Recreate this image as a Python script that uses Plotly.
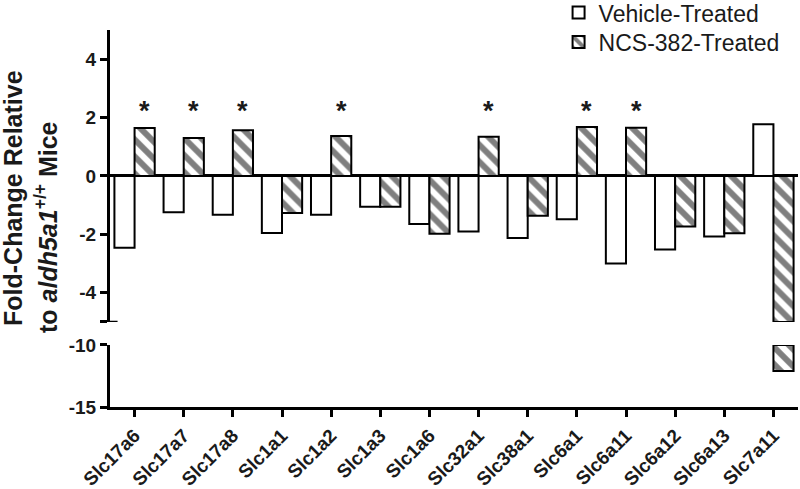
import plotly.graph_objects as go
from plotly.subplots import make_subplots

categories = ["Slc17a6", "Slc17a7", "Slc17a8", "Slc1a1", "Slc1a2", "Slc1a3", "Slc1a6",
              "Slc32a1", "Slc38a1", "Slc6a1", "Slc6a11", "Slc6a12", "Slc6a13", "Slc7a11"]
vehicle = [-2.46, -1.24, -1.33, -1.95, -1.33, -1.05, -1.64, -1.90, -2.12, -1.48, -3.00, -2.52, -2.07, 1.77]
ncs382 = [1.64, 1.30, 1.57, -1.27, 1.37, -1.05, -1.98, 1.34, -1.36, 1.68, 1.65, -1.73, -1.96, -12.1]
significant = ["Slc17a6", "Slc17a7", "Slc17a8", "Slc1a2", "Slc32a1", "Slc6a1", "Slc6a11"]
star_level = 2.35

upper_range = [-5, 5]
lower_range = [-15, -10]
upper_ticks = [-5, -4, -2, 0, 2, 4]
upper_ticktext = ["", "-4", "-2", "0", "2", "4"]
lower_ticks = [-15, -10]
lower_ticktext = ["-15", "-10"]

FONT = "Liberation Sans, Arial, sans-serif"
TXT = "#1a1a1a"

fig = make_subplots(rows=2, cols=1, shared_xaxes=True, vertical_spacing=0.061,
                    row_heights=[0.7745, 0.1645])

hatch = dict(shape="\\", fgcolor="black", bgcolor="white", size=12, solidity=0.5)

# upper segment: clip values to the visible range of the segment
veh_up = [max(v, upper_range[0]) for v in vehicle]
ncs_up = [max(v, upper_range[0]) for v in ncs382]
fig.add_trace(go.Bar(x=categories, y=veh_up, name="Vehicle-Treated",
                     marker=dict(color="white", line=dict(color="black", width=2)),
                     legend="legend"), row=1, col=1)
fig.add_trace(go.Bar(x=categories, y=ncs_up, name="NCS-382-Treated",
                     marker=dict(color="white", pattern=hatch, line=dict(color="black", width=2)),
                     legend="legend2"), row=1, col=1)

# lower segment: only values below the break
ncs_lo_base = [lower_range[1] if v < lower_range[1] else 0 for v in ncs382]
ncs_lo = [v - lower_range[1] if v < lower_range[1] else 0 for v in ncs382]
fig.add_trace(go.Bar(x=categories, y=[0] * len(categories), showlegend=False,
                     marker=dict(color="white", line=dict(color="black", width=0))), row=2, col=1)
fig.add_trace(go.Bar(x=categories, y=ncs_lo, base=ncs_lo_base, showlegend=False,
                     marker=dict(color="white", pattern=hatch,
                                 line=dict(color="black", width=[2 if v < lower_range[1] else 0 for v in ncs382]))),
              row=2, col=1)

fig.update_layout(barmode="group", bargap=0.18, bargroupgap=0)

axis_common = dict(showgrid=False, linecolor="black", linewidth=3, ticks="outside",
                   tickcolor="black", tickwidth=3, ticklen=7,
                   tickfont=dict(family=FONT, size=19, color=TXT, weight="bold"))

fig.update_yaxes(range=upper_range, tickvals=upper_ticks, ticktext=upper_ticktext,
                 showline=True, zeroline=True, zerolinecolor="black", zerolinewidth=3,
                 **axis_common, row=1, col=1)
fig.update_yaxes(range=lower_range, tickvals=lower_ticks, ticktext=lower_ticktext,
                 showline=True, zeroline=False, **axis_common, row=2, col=1)
fig.update_xaxes(showline=False, showticklabels=False, ticks="", showgrid=False,
                 range=[-0.5, len(categories) - 0.5], row=1, col=1)
fig.update_xaxes(showline=True, linecolor="black", linewidth=3, ticks="outside",
                 tickcolor="black", tickwidth=3, ticklen=7, tickangle=-45, showgrid=False,
                 range=[-0.5, len(categories) - 0.5],
                 tickfont=dict(family=FONT, size=19, color=TXT, weight="bold"),
                 row=2, col=1)

# break mark on the y axis
fig.add_shape(type="line", xref="paper", yref="y", x0=-0.011, x1=0.011,
              y0=upper_range[0], y1=upper_range[0], line=dict(color="black", width=2.5))

# significance stars
for c in significant:
    fig.add_annotation(x=c, y=star_level, xref="x", yref="y", text="<b>*</b>",
                       showarrow=False, xshift=10, yshift=-4,
                       font=dict(family=FONT, size=27, color=TXT))

# y-axis title (two lines)
fig.add_annotation(xref="paper", yref="paper", x=(13 - 110) / 688, y=(407 - 198) / 377,
                   xanchor="center", yanchor="middle",
                   text="<b>Fold-Change Relative</b>", textangle=-90, showarrow=False,
                   font=dict(family=FONT, size=25, color=TXT))
fig.add_annotation(xref="paper", yref="paper", x=(46 - 110) / 688, y=(407 - 227) / 377,
                   xanchor="center", yanchor="middle",
                   text="<b>to <i>aldh5a1</i><sup>+/+</sup> Mice</b>", textangle=-90, showarrow=False,
                   font=dict(family=FONT, size=25, color=TXT))

legend_font = dict(family=FONT, size=23, color=TXT)
fig.update_layout(
    width=800, height=489,
    margin=dict(l=110, r=2, t=30, b=82, autoexpand=False),
    plot_bgcolor="white", paper_bgcolor="white",
    legend=dict(x=0.652, y=1.103, xanchor="left", yanchor="top", font=legend_font,
                bgcolor="rgba(0,0,0,0)", itemwidth=30),
    legend2=dict(x=0.652, y=1.025, xanchor="left", yanchor="top", font=legend_font,
                 bgcolor="rgba(0,0,0,0)", itemwidth=30),
)

fig.write_html("out.html", config={"displayModeBar": False},
               post_script="document.body.style.margin='0px';")
